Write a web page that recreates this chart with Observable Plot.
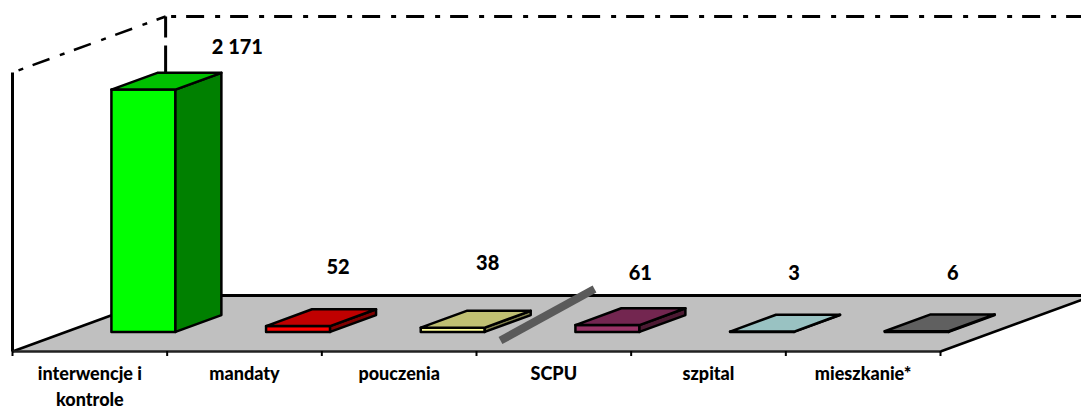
<!DOCTYPE html>
<html><head><meta charset="utf-8">
<script src="https://cdn.jsdelivr.net/npm/d3@7"></script>
<script src="https://cdn.jsdelivr.net/npm/@observablehq/plot@0.6"></script>
<style>html,body{margin:0;padding:0;background:#fff}svg{display:block}</style>
</head><body><div id="c"></div>
<script>
const categories = ["interwencje i\nkontrole","mandaty","pouczenia","SCPU","szpital","mieszkanie*"];
const values = [2171,52,38,61,3,6];
const valueLabels = ["2 171","52","38","61","3","6"];
const frontColors = ["#00ff00","#ff0000","#ffff99","#993366","#ccffff","#808080"];
const topColors = ["#00c000","#c00000","#c0c073","#732650","#99c2c2","#606060"];
const sideColors = ["#008000","#800000","#80804d","#4d1a33","#668080","#404040"];
const labelOffsets = [[48,-25],[-6,-42],[-11,-47],[-13,-35],[-14,-41],[-10,-41]];

const yMax = 2500, barWidth = 0.414, d0 = 0.35, d1 = 0.65;
// oblique projection: depth 0 = front edge of floor, depth 1 = back wall
const depthX = 0.99, depthY = 502;
const P = (cat, val, depth, face, fill) => ({x: cat + depth*depthX, y: val + depth*depthY, face, fill});

const faces = [];
values.forEach((v,i)=>{
  const a = i+0.5-barWidth/2, b = i+0.5+barWidth/2;
  faces.push(
    P(a,0,d0,`f${i}`,frontColors[i]),P(b,0,d0,`f${i}`,frontColors[i]),P(b,v,d0,`f${i}`,frontColors[i]),P(a,v,d0,`f${i}`,frontColors[i]),
    P(b,0,d0,`s${i}`,sideColors[i]),P(b,0,d1,`s${i}`,sideColors[i]),P(b,v,d1,`s${i}`,sideColors[i]),P(b,v,d0,`s${i}`,sideColors[i]),
    P(a,v,d0,`t${i}`,topColors[i]),P(b,v,d0,`t${i}`,topColors[i]),P(b,v,d1,`t${i}`,topColors[i]),P(a,v,d1,`t${i}`,topColors[i])
  );
});
const floor = [P(0,0,0),P(6,0,0),P(6,0,1),P(0,0,1)];
const backTop = [P(0,yMax,1),P(6,yMax,1)];
const leftTop = [P(0,yMax,0),P(0,yMax,1)];
const backLeft = [P(0,yMax,1),P(0,0,1)];
const leftFront = [P(0,0,0),P(0,yMax,0)];
const axisBase = [P(0,0,0),P(6,0,0)];
const floorBack = [P(0,0,1),P(6,0,1)];
const floorLeft = [P(0,0,0),P(0,0,1)];
const floorRight = [P(6,0,0),P(6,0,1)];
const slash = [{x:3.155,y:98},{x:3.763,y:560}];
const base = {x:"x",y:"y",stroke:"#000",strokeLinecap:"butt"};

const chart = Plot.plot({
  width:1081,height:410,marginTop:0,marginLeft:0,marginRight:0,marginBottom:59,
  x:{domain:[0,6],range:[12,940],axis:null,label:null},
  y:{domain:[0,yMax],range:[351,72],axis:null,label:null},
  color:{type:"identity"},
  style:{background:"#fff",overflow:"hidden"},
  marks:[
    Plot.line(floor,{x:"x",y:"y",curve:"linear-closed",fill:"#c0c0c0",stroke:"none"}),
    Plot.line(floorBack,{...base,strokeWidth:3}),
    Plot.line(floorLeft,{...base,strokeWidth:2.5}),
    Plot.line(floorRight,{...base,strokeWidth:2.5}),
    Plot.line(backLeft,{...base,strokeWidth:3,strokeDasharray:"21,8,300"}),
    Plot.line(leftTop,{...base,strokeWidth:2.5,strokeDasharray:"5,10,18,11",strokeDashoffset:37.6}),
    Plot.line(backTop,{...base,strokeWidth:3,strokeDasharray:"5,10,18,11",strokeDashoffset:38.5}),
    Plot.line(leftFront,{...base,strokeWidth:3}),
    Plot.line(axisBase,{...base,stroke:"#222",strokeWidth:2.5}),
    Plot.axisX({ticks:d3.range(0,7),tickSize:5,tickFormat:()=>"",label:null,stroke:"#000",strokeWidth:2}),
    Plot.line(faces,{x:"x",y:"y",z:"face",fill:"fill",stroke:"#000",strokeWidth:2.5,curve:"linear-closed"}),
    Plot.line(slash,{...base,stroke:"#5a5a5a",strokeWidth:8}),
    ...values.map((v,i)=>Plot.text([i],{
      x:i+0.5+d1*depthX,y:v+d1*depthY,text:()=>valueLabels[i],
      dx:labelOffsets[i][0],dy:labelOffsets[i][1],
      fontFamily:"Lato",fontWeight:900,fontSize:20,fill:"#000"
    })),
    Plot.text(categories,{
      x:(d,i)=>i+0.5,y:0,text:d=>d,dy:11,lineHeight:1.4,lineAnchor:"top",textAnchor:"middle",
      fontFamily:"Lato",fontWeight:900,fontSize:18,fill:"#000"
    })
  ]
});
document.getElementById("c").appendChild(chart);
</script></body></html>
